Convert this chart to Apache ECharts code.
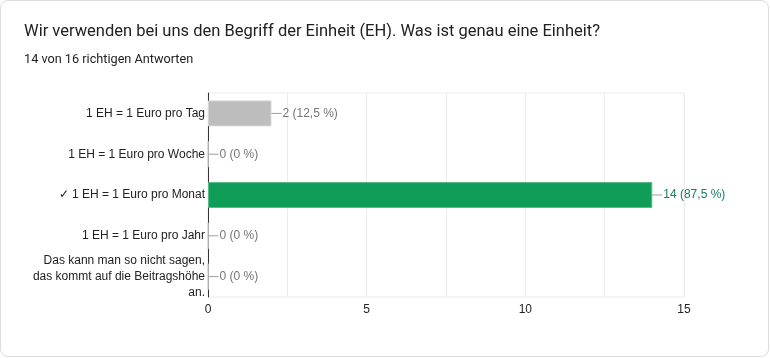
<!DOCTYPE html>
<html><head><meta charset="utf-8">
<script src="https://cdn.jsdelivr.net/npm/echarts@6/dist/echarts.min.js"></script>
<style>
html,body{margin:0;padding:0;background:#fff;}
#card{position:absolute;left:0;top:0;width:767px;height:355px;border:1px solid #dadce0;border-radius:8px;background:#fff;}
#c{position:absolute;left:0;top:0;width:770px;height:358px;}
</style></head>
<body><div id="card"></div><div id="c"></div>
<script>
const titleText = 'Wir verwenden bei uns den Begriff der Einheit (EH). Was ist genau eine Einheit?';
const subtitleText = '14 von 16 richtigen Antworten';
const categories = ['1 EH = 1 Euro pro Tag','1 EH = 1 Euro pro Woche','✓ 1 EH = 1 Euro pro Monat','1 EH = 1 Euro pro Jahr','Das kann man so nicht sagen,\ndas kommt auf die Beitragshöhe\nan.'];
const values = [2, 0, 14, 0, 0];
const percents = ['12,5 %','0 %','87,5 %','0 %','0 %'];
const correct = [false, false, true, false, false];
const xTicks = [0, 5, 10, 15];

const chart = echarts.init(document.getElementById('c'));
chart.setOption({
  animation:false,
  title:[
    {text:titleText,left:19,top:18,textStyle:{fontFamily:'Roboto',fontSize:16.5,fontWeight:'normal',color:'#202124'}},
    {text:subtitleText,left:19,top:48,textStyle:{fontFamily:'Roboto',fontSize:12.7,fontWeight:'normal',color:'#202124'}}
  ],
  grid:{left:208,right:86,top:93,bottom:61,show:true,borderColor:'#ececec',borderWidth:1},
  xAxis:{type:'value',min:0,max:15,interval:2.5,
    axisLine:{show:false},axisTick:{show:false},
    splitLine:{lineStyle:{color:'#ececec'}},
    axisLabel:{fontFamily:'Liberation Sans',fontSize:12,color:'#222',margin:7,
      formatter:v=>xTicks.includes(v)?String(v):''}},
  yAxis:{type:'category',inverse:true,data:categories,
    axisLine:{show:true,lineStyle:{color:'#333'}},axisTick:{show:false},
    axisLabel:{fontFamily:'Liberation Sans',fontSize:12,color:'#222',margin:3,lineHeight:16,align:'right'}},
  series:[{type:'bar',barWidth:26,
    data:values.map((v,i)=>({value:v,itemStyle:{color:correct[i]?'#0f9d58':'#bdbdbd',borderColor:correct[i]?'#57bb8a':'#d5d5d5',borderWidth:1},
      label:{show:true,position:'right',distance:0,
        formatter:'{l|}{t|'+v+' ('+percents[i]+')}',
        rich:{l:{width:10,height:1,backgroundColor:'#9e9e9e'},
              t:{fontFamily:'Liberation Sans',fontSize:12,color:correct[i]?'#137d6a':'#757575',padding:[0,0,0,1]}}}}))
  }]
});
</script></body></html>
